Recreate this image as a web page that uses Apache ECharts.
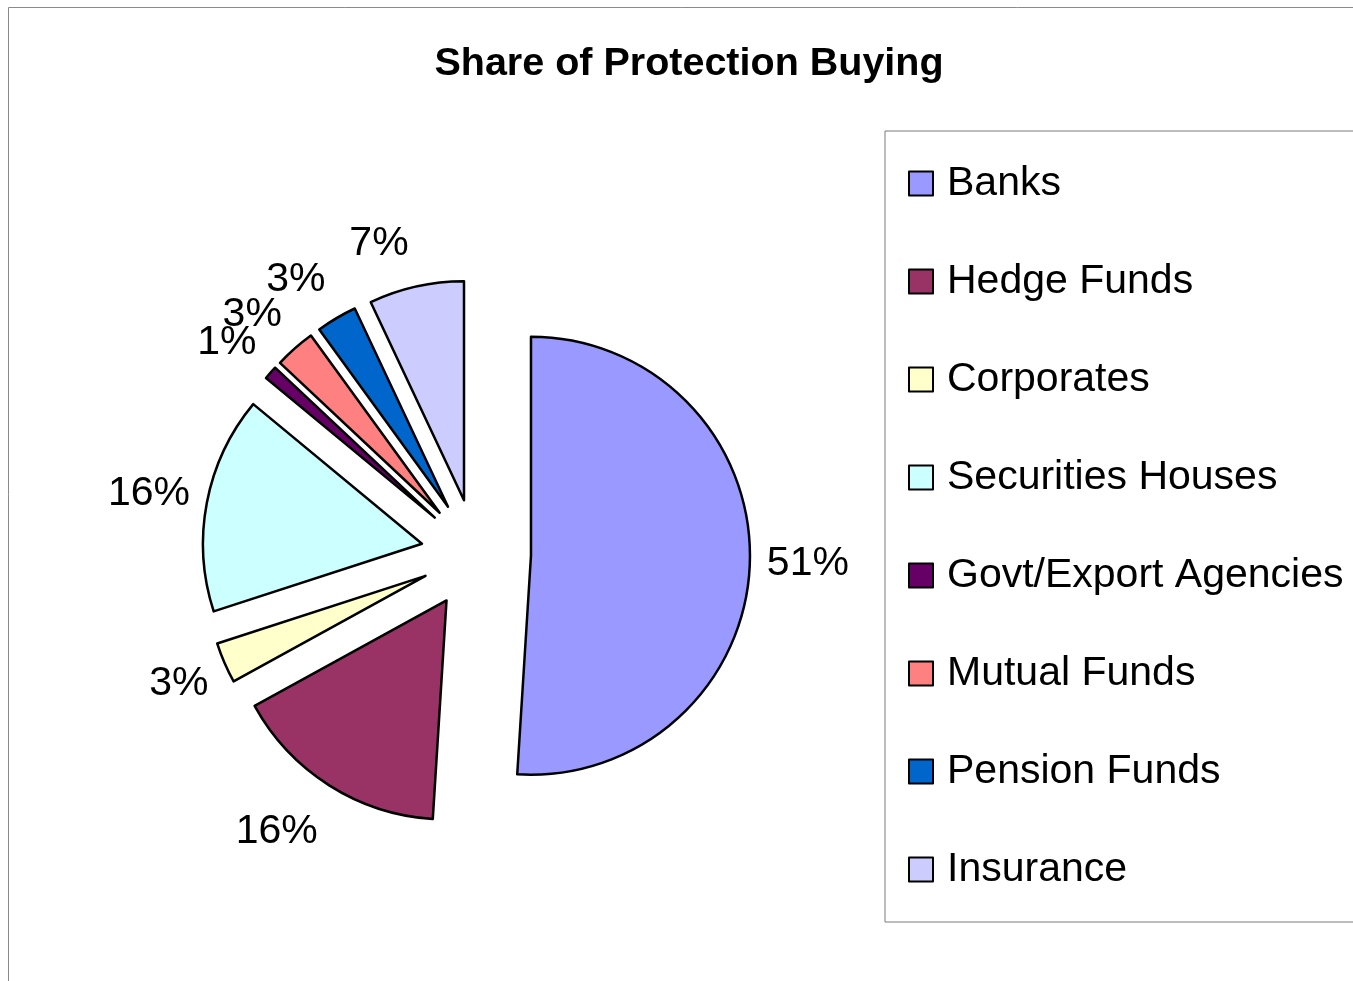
<!DOCTYPE html>
<html>
<head>
<meta charset="utf-8">
<script src="https://cdn.jsdelivr.net/npm/echarts@6/dist/echarts.min.js"></script>
<style>
html,body{margin:0;padding:0;background:#fff;}
#chart{width:1353px;height:981px;}
</style>
</head>
<body>
<div id="chart"></div>
<script>
const categories = ['Banks', 'Hedge Funds', 'Corporates', 'Securities Houses', 'Govt/Export Agencies', 'Mutual Funds', 'Pension Funds', 'Insurance'];
const shares = [51, 16, 3, 16, 1, 3, 3, 7];
const sliceColors = ['#9999FF', '#993366', '#FFFFCC', '#CCFFFF', '#660066', '#FF8080', '#0066CC', '#CCCCFF'];

const total = shares.reduce((a, b) => a + b, 0);
const midAngles = [];
(function () {
  let acc = 0;
  shares.forEach(v => { midAngles.push((acc + v / 2) / total * 2 * Math.PI); acc += v; });
})();

const sliceBorder = {borderColor: '#000', borderWidth: 2.5};

const chart = echarts.init(document.getElementById('chart'), null, {renderer: 'canvas'});
chart.setOption({
  animation: false,
  backgroundColor: '#fff',
  graphic: [{
    type: 'rect', silent: true,
    shape: {x: 8.5, y: 7.5, width: 1400, height: 1000},
    style: {fill: 'none', stroke: '#8a8a8a', lineWidth: 1}
  }],
  title: {
    text: 'Share of Protection Buying',
    left: 684, top: 39, textAlign: 'center',
    textStyle: {fontFamily: 'Liberation Sans', fontWeight: 'bold', fontSize: 39.5, color: '#000'}
  },
  legend: {
    orient: 'vertical',
    left: 885, top: 131,
    padding: [32, 40, 32, 23],
    borderColor: '#7a7a7a', borderWidth: 1,
    itemWidth: 24, itemHeight: 24, itemGap: 57,
    icon: 'rect',
    itemStyle: {borderColor: '#000', borderWidth: 2},
    textStyle: {fontFamily: 'Liberation Sans', fontSize: 41, lineHeight: 40, color: '#000', padding: [0, 0, 0, 9]},
    data: categories,
    selectedMode: false
  },
  series: [{
    type: 'pie',
    center: [476, 554],
    radius: 219,
    startAngle: 90,
    clockwise: true,
    selectedMode: 'multiple',
    selectedOffset: 55,
    avoidLabelOverlap: false,
    emphasis: {disabled: true, scale: false},
    itemStyle: sliceBorder,
    select: {itemStyle: sliceBorder},
    label: {
      show: true, position: 'outside',
      fontFamily: 'Liberation Sans', fontSize: 41, color: '#000',
      distanceToLabelLine: 5,
      formatter: p => Math.round(p.percent) + '%'
    },
    labelLine: {show: false, length: 12, length2: 0},
    labelLayout: function (params) {
      const dirY = -Math.cos(midAngles[params.dataIndex]);
      return {dy: 38 * dirY + 6 * dirY * dirY};
    },
    data: categories.map((name, i) => ({
      name: name, value: shares[i], selected: true,
      itemStyle: {color: sliceColors[i]}
    }))
  }]
});
</script>
</body>
</html>
